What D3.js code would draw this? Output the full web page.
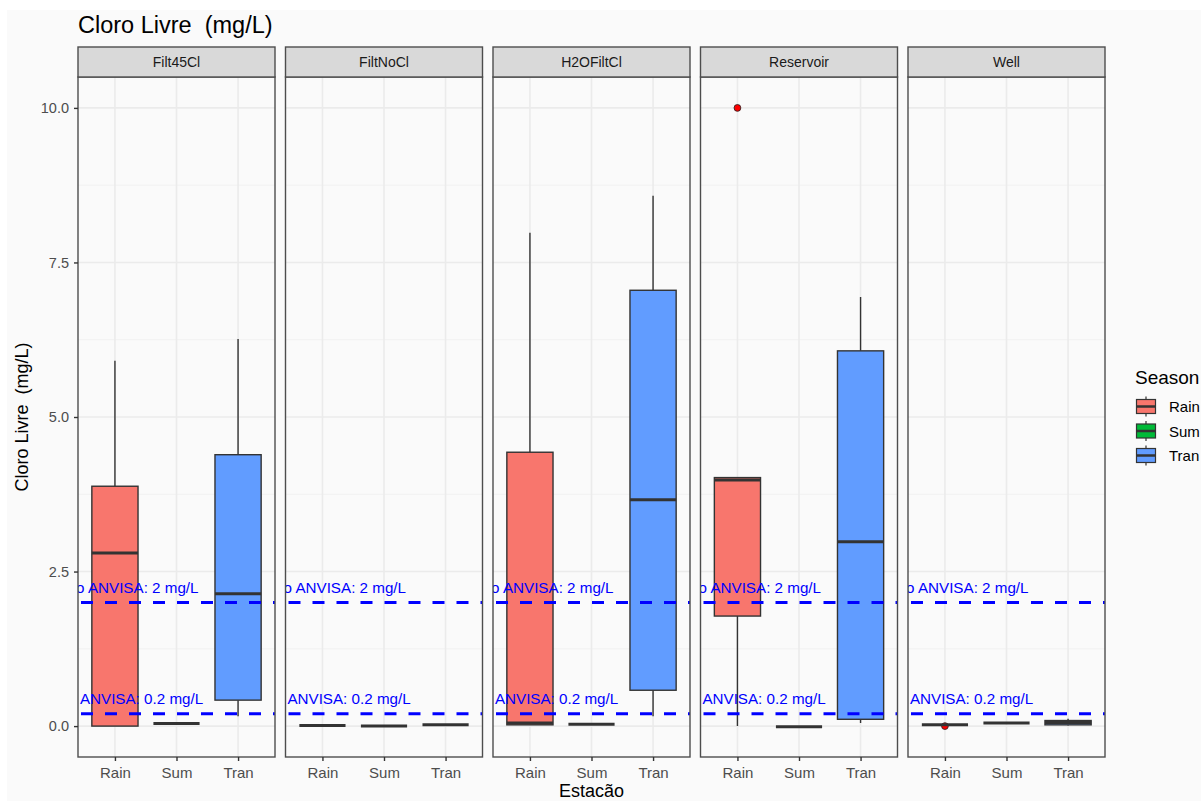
<!DOCTYPE html>
<html>
<head>
<meta charset="utf-8">
<script src="https://cdn.jsdelivr.net/npm/d3@7"></script>
<style>
  html, body { margin: 0; padding: 0; background: #ffffff; }
  svg { display: block; font-family: "Liberation Sans", Arial, sans-serif; }
  text { white-space: pre; }
</style>
</head>
<body>
<svg id="chart" width="1201" height="801"></svg>
<script>
// Facets (sampling point) and x categories (season)
const facets = ["Filt45Cl", "FiltNoCl", "H2OFiltCl", "Reservoir", "Well"];
const seasons = ["Rain", "Sum", "Tran"];
const seasonColors = ["#F8766D", "#00BA38", "#619CFF"];

// Box statistics, one row per facet, one value per season (mg/L)
const whiskerLow  = [[0.00, 0.04, 0.16], [0.01, 0.00, 0.02], [0.02, 0.03, 0.16], [0.00, -0.01, 0.05], [0.02, 0.05, 0.01]];
const quartile1   = [[0.00, 0.04, 0.42], [0.01, 0.00, 0.02], [0.02, 0.03, 0.58], [1.78, -0.01, 0.11], [0.02, 0.05, 0.02]];
const medians     = [[2.80, 0.04, 2.14], [0.01, 0.00, 0.02], [0.05, 0.03, 3.66], [3.98, -0.01, 2.98], [0.02, 0.05, 0.06]];
const quartile3   = [[3.88, 0.04, 4.39], [0.01, 0.00, 0.02], [4.43, 0.03, 7.05], [4.02, -0.01, 6.07], [0.02, 0.05, 0.09]];
const whiskerHigh = [[5.91, 0.04, 6.26], [0.01, 0.00, 0.02], [7.98, 0.03, 8.58], [4.02, -0.01, 6.94], [0.02, 0.05, 0.12]];
// Outlying points: [facet index, season index, value]
const outliers = [[3, 0, 10.0], [4, 0, 0.0]];

// Reference limits with their labels
const limitValues = [2, 0.2];
const limitLabels = ["Máximo ANVISA: 2 mg/L", "Mínimo ANVISA: 0.2 mg/L"];

const yTicks = [0, 2.5, 5, 7.5, 10];
const yMinor = [1.25, 3.75, 6.25, 8.75];

const svg = d3.select("#chart");
const W = 1201, H = 801;

// plot background
svg.append("rect").attr("x", 7).attr("y", 10).attr("width", W - 7).attr("height", H - 10).attr("fill", "#FAFAFA");

const plotLeft = 78, plotRight = 1105, panelGap = 10.5;
const stripTop = 47, panelTop = 77, panelBottom = 757;
const panelW = (plotRight - plotLeft - panelGap * (facets.length - 1)) / facets.length;

const fx = d3.scaleBand().domain(facets).range([plotLeft, plotRight]).paddingInner(panelGap / (panelW + panelGap)).paddingOuter(0);
const y = d3.scaleLinear().domain([-0.5, 10.5]).range([panelBottom, panelTop]);
// discrete x axis: categories at 1..3 with 0.6 expansion on both sides
const xi = d3.scaleLinear().domain([0.4, 3.6]).range([0, fx.bandwidth()]);
const boxW = 0.75 * (xi(2) - xi(1));

const dark = "#333333";

facets.forEach((f, fi) => {
  const g = svg.append("g").attr("transform", `translate(${fx(f)},0)`);
  const pw = fx.bandwidth();

  const clipId = "clip" + fi;
  g.append("clipPath").attr("id", clipId)
    .append("rect").attr("x", 0).attr("y", panelTop).attr("width", pw).attr("height", panelBottom - panelTop);

  // panel background and grid
  g.append("rect").attr("x", 0).attr("y", panelTop).attr("width", pw).attr("height", panelBottom - panelTop).attr("fill", "#FAFAFA");
  g.selectAll(".gminor").data(yMinor).join("line")
    .attr("x1", 0).attr("x2", pw).attr("y1", d => y(d)).attr("y2", d => y(d))
    .attr("stroke", "#F1F1F1").attr("stroke-width", 1);
  g.selectAll(".gmajor").data(yTicks).join("line")
    .attr("x1", 0).attr("x2", pw).attr("y1", d => y(d)).attr("y2", d => y(d))
    .attr("stroke", "#EBEBEB").attr("stroke-width", 1.6);
  g.selectAll(".gx").data(seasons).join("line")
    .attr("x1", (d, i) => xi(i + 1)).attr("x2", (d, i) => xi(i + 1))
    .attr("y1", panelTop).attr("y2", panelBottom)
    .attr("stroke", "#EBEBEB").attr("stroke-width", 1.6);

  const body = g.append("g").attr("clip-path", `url(#${clipId})`);

  // outlying points sit beneath the boxes
  body.selectAll(".out").data(outliers.filter(o => o[0] === fi)).join("circle")
    .attr("cx", d => xi(d[1] + 1)).attr("cy", d => y(d[2])).attr("r", 3.4)
    .attr("fill", "#FF0000").attr("stroke", "#222").attr("stroke-width", 0.8);

  // boxplots
  seasons.forEach((s, si) => {
    const cx = xi(si + 1);
    const bg = body.append("g");
    bg.append("line").attr("x1", cx).attr("x2", cx)
      .attr("y1", y(quartile3[fi][si])).attr("y2", y(whiskerHigh[fi][si]))
      .attr("stroke", dark).attr("stroke-width", 1.4);
    bg.append("line").attr("x1", cx).attr("x2", cx)
      .attr("y1", y(quartile1[fi][si])).attr("y2", y(whiskerLow[fi][si]))
      .attr("stroke", dark).attr("stroke-width", 1.4);
    bg.append("rect")
      .attr("x", cx - boxW / 2).attr("width", boxW)
      .attr("y", y(quartile3[fi][si]))
      .attr("height", Math.max(0, y(quartile1[fi][si]) - y(quartile3[fi][si])))
      .attr("fill", seasonColors[si]).attr("stroke", dark).attr("stroke-width", 1.4);
    bg.append("line").attr("x1", cx - boxW / 2).attr("x2", cx + boxW / 2)
      .attr("y1", y(medians[fi][si])).attr("y2", y(medians[fi][si]))
      .attr("stroke", dark).attr("stroke-width", 3);
  });

  // limit lines and labels
  body.selectAll(".lim").data(limitValues).join("line")
    .attr("x1", 0).attr("x2", pw).attr("y1", d => y(d)).attr("y2", d => y(d))
    .attr("stroke", "#0000FF").attr("stroke-width", 3).attr("stroke-dasharray", "12,12")
    .attr("stroke-dashoffset", -3);
  body.selectAll(".limt").data(limitValues).join("text")
    .attr("x", xi(1)).attr("y", d => y(d) - 9.7)
    .attr("text-anchor", "middle").attr("fill", "#0000FF").attr("font-size", 15.2)
    .text((d, i) => limitLabels[i]);

  // panel border
  g.append("rect").attr("x", 0).attr("y", panelTop).attr("width", pw).attr("height", panelBottom - panelTop)
    .attr("fill", "none").attr("stroke", "#4D4D4D").attr("stroke-width", 1.4);

  // strip
  g.append("rect").attr("x", 0).attr("y", stripTop).attr("width", pw).attr("height", panelTop - stripTop)
    .attr("fill", "#D9D9D9").attr("stroke", "#4D4D4D").attr("stroke-width", 1.4);
  g.append("text").attr("x", pw / 2).attr("y", (stripTop + panelTop) / 2 + 5)
    .attr("text-anchor", "middle").attr("font-size", 14).attr("fill", "#1A1A1A").text(f);

  // x axis
  const xAxisScale = d3.scalePoint().domain(seasons).range([xi(1), xi(3)]);
  const xa = g.append("g").attr("transform", `translate(0,${panelBottom})`)
    .call(d3.axisBottom(xAxisScale).tickSize(4).tickPadding(6));
  xa.select(".domain").remove();
  xa.selectAll(".tick line").attr("stroke", "#333").attr("stroke-width", 1.4);
  xa.selectAll(".tick text").attr("font-size", 15).attr("fill", "#4D4D4D")
    .attr("font-family", "Liberation Sans, Arial, sans-serif");
});

// y axis on the first panel
const ya = svg.append("g").attr("transform", `translate(${plotLeft},0)`)
  .call(d3.axisLeft(y).tickValues(yTicks).tickFormat(d3.format(".1f")).tickSize(4).tickPadding(5));
ya.select(".domain").remove();
ya.selectAll(".tick line").attr("stroke", "#333").attr("stroke-width", 1.4);
ya.selectAll(".tick text").attr("font-size", 14.5).attr("fill", "#4D4D4D")
  .attr("font-family", "Liberation Sans, Arial, sans-serif");

// titles
svg.append("text").attr("x", 78).attr("y", 33).attr("font-size", 23.5).attr("fill", "#000").text("Cloro Livre  (mg/L)");
svg.append("text").attr("transform", `translate(28,${(panelTop + panelBottom) / 2}) rotate(-90)`)
  .attr("text-anchor", "middle").attr("font-size", 18).attr("fill", "#000").text("Cloro Livre  (mg/L)");
svg.append("text").attr("x", (plotLeft + plotRight) / 2).attr("y", 797)
  .attr("text-anchor", "middle").attr("font-size", 18).attr("fill", "#000").text("Estacão");

// legend
const lg = svg.append("g").attr("transform", "translate(1135,0)");
lg.append("text").attr("x", 0).attr("y", 384).attr("font-size", 19).attr("fill", "#000").text("Season");
seasons.forEach((s, i) => {
  const cy = 406.5 + i * 24.5;
  const k = lg.append("g");
  k.append("line").attr("x1", 11).attr("x2", 11).attr("y1", cy - 10).attr("y2", cy + 10).attr("stroke", dark).attr("stroke-width", 1.2);
  k.append("rect").attr("x", 1.5).attr("y", cy - 7).attr("width", 19).attr("height", 14)
    .attr("fill", seasonColors[i]).attr("stroke", dark).attr("stroke-width", 1.2);
  k.append("line").attr("x1", 1.5).attr("x2", 20.5).attr("y1", cy).attr("y2", cy).attr("stroke", dark).attr("stroke-width", 2.5);
  lg.append("text").attr("x", 34).attr("y", cy + 5.5).attr("font-size", 15).attr("fill", "#000").text(s);
});
</script>
</body>
</html>
